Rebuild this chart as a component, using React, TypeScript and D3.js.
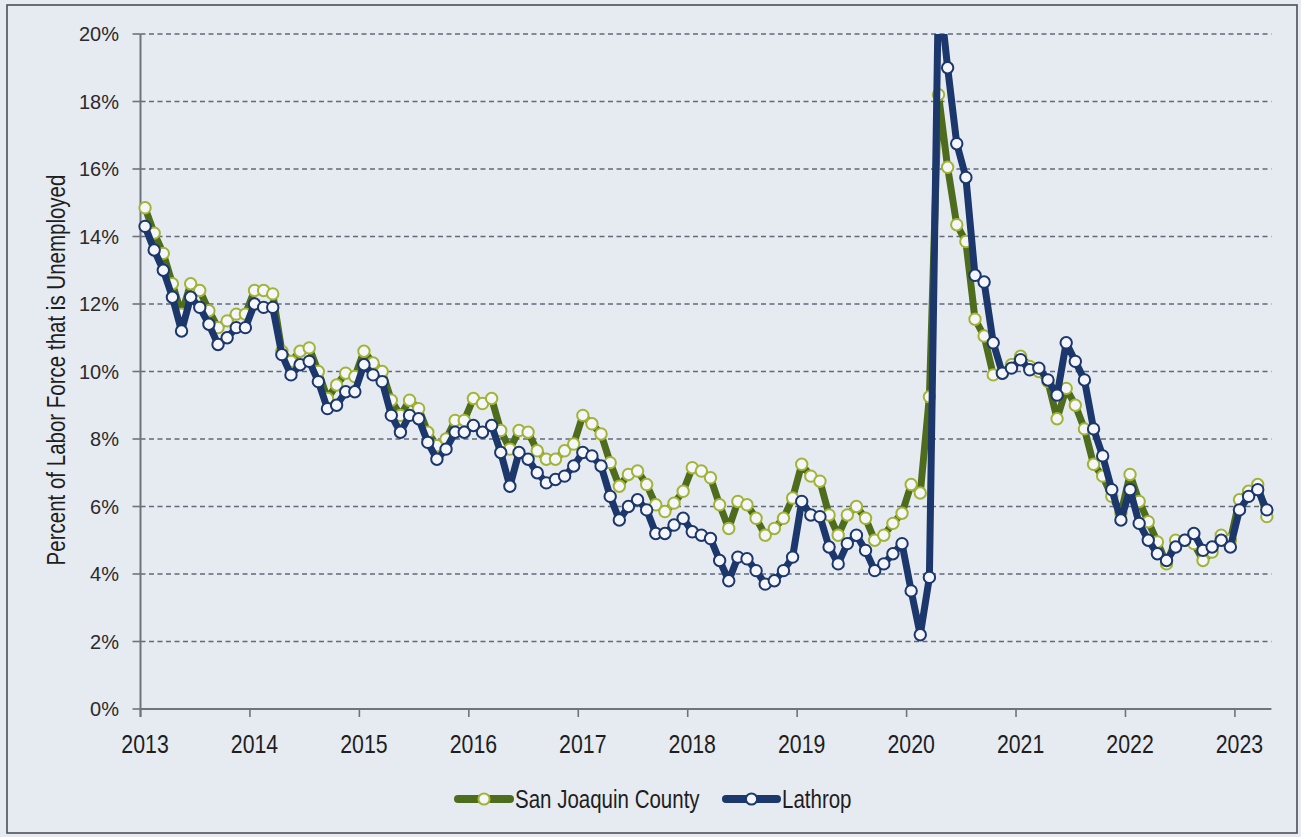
import React from "react";
import * as d3 from "d3";

const yearLabels = ["2013","2014","2015","2016","2017","2018","2019","2020","2021","2022","2023"];
const yTicks = [0, 2, 4, 6, 8, 10, 12, 14, 16, 18, 20];

// Monthly unemployment rate, Jan 2013 – Apr 2023
const sanJoaquin = [
  14.85, 14.1, 13.5, 12.6, 11.7, 12.6, 12.4, 11.8, 11.3, 11.5, 11.7, 11.7,
  12.4, 12.4, 12.3, 10.6, 10.3, 10.6, 10.7, 10.0, 9.2, 9.6, 9.95, 9.85,
  10.6, 10.25, 10.0, 9.15, 8.7, 9.15, 8.9, 8.2, 7.8, 8.0, 8.55, 8.55,
  9.2, 9.05, 9.2, 8.25, 7.7, 8.25, 8.2, 7.65, 7.4, 7.4, 7.65, 7.85,
  8.7, 8.45, 8.15, 7.3, 6.6, 6.95, 7.05, 6.65, 6.05, 5.85, 6.1, 6.45,
  7.15, 7.05, 6.85, 6.05, 5.35, 6.15, 6.05, 5.65, 5.15, 5.35, 5.65, 6.25,
  7.25, 6.9, 6.75, 5.75, 5.15, 5.75, 6.0, 5.65, 5.0, 5.15, 5.5, 5.8,
  6.65, 6.4, 9.25, 18.2, 16.05, 14.35, 13.85, 11.55, 11.05, 9.9, 9.95, 10.2,
  10.45, 10.15, 10.0, 9.7, 8.6, 9.5, 9.0, 8.3, 7.25, 6.9, 6.3, 5.8,
  6.95, 6.15, 5.55, 4.95, 4.3, 5.0, 5.0, 4.9, 4.4, 4.65, 5.15, 5.0,
  6.2, 6.45, 6.65, 5.7,
];

const lathrop = [
  14.3, 13.6, 13.0, 12.2, 11.2, 12.2, 11.9, 11.4, 10.8, 11.0, 11.3, 11.3,
  12.0, 11.9, 11.9, 10.5, 9.9, 10.2, 10.3, 9.7, 8.9, 9.0, 9.4, 9.4,
  10.2, 9.9, 9.7, 8.7, 8.2, 8.7, 8.6, 7.9, 7.4, 7.7, 8.2, 8.2,
  8.4, 8.2, 8.4, 7.6, 6.6, 7.6, 7.4, 7.0, 6.7, 6.8, 6.9, 7.2,
  7.6, 7.5, 7.2, 6.3, 5.6, 6.0, 6.2, 5.9, 5.2, 5.2, 5.45, 5.65,
  5.25, 5.15, 5.05, 4.4, 3.8, 4.5, 4.45, 4.1, 3.7, 3.8, 4.1, 4.5,
  6.15, 5.75, 5.7, 4.8, 4.3, 4.9, 5.15, 4.7, 4.1, 4.3, 4.6, 4.9,
  3.5, 2.2, 3.9, 21.5, 19.0, 16.75, 15.75, 12.85, 12.65, 10.85, 9.95, 10.1,
  10.35, 10.05, 10.1, 9.75, 9.3, 10.85, 10.3, 9.75, 8.3, 7.5, 6.5, 5.6,
  6.5, 5.5, 5.0, 4.6, 4.4, 4.8, 5.0, 5.2, 4.7, 4.8, 5.0, 4.8,
  5.9, 6.3, 6.5, 5.9,
];

const seriesNames = ["San Joaquin County", "Lathrop"];

const W = 1301;
const H = 837;
const left = 140.5;
const right = 1271.4;
const top = 34;
const bottom = 709;

const GREEN_LINE = "#4e6c1d";
const GREEN_MARK = "#a2b434";
const BLUE_LINE = "#1c376c";
const BLUE_MARK = "#1c376c";
const MARK_FILL = "#f4f6fb";
const SANS = "'Liberation Sans', Arial, sans-serif";
const NARROW_SCALE = 0.82;

function NarrowText(props: {
  x: number;
  y: number;
  size: number;
  anchor?: "start" | "middle" | "end";
  rotate?: number;
  children: React.ReactNode;
}) {
  const { x, y, size, anchor = "start", rotate = 0, children } = props;
  return (
    <text
      transform={`translate(${x},${y}) rotate(${rotate}) scale(${NARROW_SCALE},1)`}
      textAnchor={anchor}
      fontFamily={SANS}
      fontSize={size}
      fill="#1e1e1e"
    >
      {children}
    </text>
  );
}

export default function App() {
  const nMonths = sanJoaquin.length;
  const x = d3.scaleLinear().domain([0, nMonths]).range([left, right]);
  const y = d3.scaleLinear().domain([0, 20]).range([bottom, top]);
  const px = (i: number) => x(i + 0.5);

  const line = d3
    .line<number>()
    .x((_, i) => px(i))
    .y((d) => y(d));

  const series = [
    { name: seriesNames[0], data: sanJoaquin, lc: GREEN_LINE, mc: GREEN_MARK },
    { name: seriesNames[1], data: lathrop, lc: BLUE_LINE, mc: BLUE_MARK },
  ];

  return (
    <svg
      width={W}
      height={H}
      style={{ position: "absolute", left: 0, top: 0, display: "block" }}
    >
      <defs>
        <clipPath id="plotClip">
          <rect x={left - 10} y={top} width={right - left + 20} height={bottom - top + 10} />
        </clipPath>
      </defs>
      <rect x={0} y={0} width={W} height={H} fill="#e6eaf1" />
      <rect x={7} y={5} width={1290} height={828} fill="none" stroke="#4d4f55" strokeWidth={1.6} />

      {/* gridlines */}
      {yTicks.filter((t) => t > 0).map((t) => (
        <line
          key={"g" + t}
          x1={left}
          x2={right}
          y1={y(t)}
          y2={y(t)}
          stroke="#626a78"
          strokeWidth={1.6}
          strokeDasharray="5,3.5"
        />
      ))}

      {/* y axis */}
      <line x1={left} x2={left} y1={top} y2={bottom + 8} stroke="#6f747c" strokeWidth={2} />
      {yTicks.map((t) => (
        <g key={"yt" + t}>
          <line x1={left - 8} x2={left} y1={y(t)} y2={y(t)} stroke="#6f747c" strokeWidth={1.6} />
          <text
            x={119}
            y={y(t)}
            dy="0.36em"
            textAnchor="end"
            fontFamily={SANS}
            fontSize={20}
            fill="#2b2b2b"
          >
            {t + "%"}
          </text>
        </g>
      ))}
      <NarrowText x={65} y={370} size={25} anchor="middle" rotate={-90}>
        Percent of Labor Force that is Unemployed
      </NarrowText>

      {/* x axis */}
      <line x1={left} x2={right} y1={bottom} y2={bottom} stroke="#6f747c" strokeWidth={2} />
      {yearLabels.map((lab, k) => (
        <g key={"xt" + lab}>
          <line x1={x(12 * k)} x2={x(12 * k)} y1={bottom} y2={bottom + 8} stroke="#6f747c" strokeWidth={1.6} />
          <NarrowText x={px(12 * k)} y={753} size={26} anchor="middle">
            {lab}
          </NarrowText>
        </g>
      ))}

      {/* series */}
      <g clipPath="url(#plotClip)">
        {series.map((s) => (
          <g key={s.name}>
            <path
              d={line(s.data) || ""}
              fill="none"
              stroke={s.lc}
              strokeWidth={7}
              strokeLinejoin="round"
              strokeLinecap="round"
            />
            {s.data.map((v, i) => (
              <circle
                key={i}
                cx={px(i)}
                cy={y(v)}
                r={5.7}
                fill={MARK_FILL}
                stroke={s.mc}
                strokeWidth={2}
              />
            ))}
          </g>
        ))}
      </g>

      {/* legend */}
      {[
        { x0: 455, x1: 513, tx: 515, s: series[0] },
        { x0: 723, x1: 780, tx: 782, s: series[1] },
      ].map((L) => (
        <g key={"lg" + L.s.name}>
          <line x1={L.x0 + 3} x2={L.x1 - 3} y1={799} y2={799} stroke={L.s.lc} strokeWidth={8} strokeLinecap="round" />
          <circle cx={(L.x0 + L.x1) / 2} cy={799} r={5.6} fill={MARK_FILL} stroke={L.s.mc} strokeWidth={2} />
          <NarrowText x={L.tx} y={808} size={25}>
            {L.s.name}
          </NarrowText>
        </g>
      ))}
    </svg>
  );
}
